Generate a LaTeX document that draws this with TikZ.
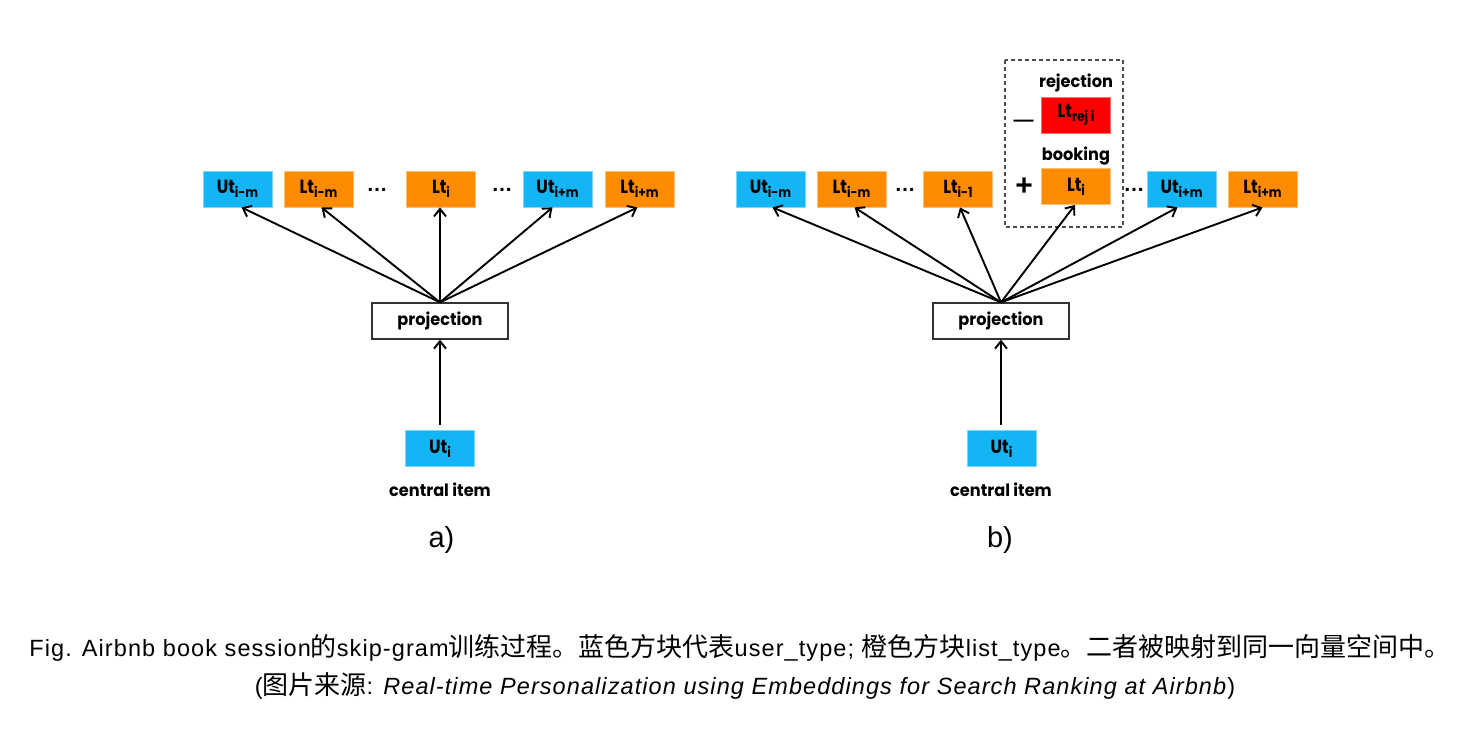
\documentclass[tikz,border=0pt]{standalone}
\usepackage{fontspec}
\setmainfont{Liberation Sans}[LetterSpace=4.6]
\newfontfamily\plainsans{Liberation Sans}
\newfontfamily\gothicb{Poppins}[FakeStretch=0.86]
\newfontfamily\gothicl{Poppins}[FakeStretch=0.95]
\newfontfamily\cjk{Noto Sans CJK SC}
\usetikzlibrary{arrows.meta}
\definecolor{ublue}{HTML}{13B5F5}
\definecolor{lorange}{HTML}{FF8C00}
\definecolor{rred}{HTML}{FF0000}
\newcommand\subtx[1]{\raisebox{-4pt}{\fontsize{14}{14}\selectfont #1}}
\newcommand\cj[1]{{\fontsize{26}{26}\selectfont\cjk #1}}
\tikzset{
  item/.style={minimum width=69, minimum height=36, inner sep=0pt,
    font=\gothicb\bfseries\fontsize{19}{19}\selectfont, fill=#1, draw=#1!55!white, line width=0.8},
  arr/.style={line width=1.9, -{Straight Barb[length=7.5pt,width=12pt,line width=1.9pt]}},
  lbl/.style={font=\gothicl\bfseries\fontsize{17}{17}\selectfont, inner sep=0pt},
  dots/.style={font=\plainsans\bfseries\fontsize{21}{21}\selectfont, inner sep=0pt, anchor=base},
  signs/.style={font=\plainsans\bfseries\fontsize{30}{30}\selectfont, inner sep=0pt},
  proj/.style={draw=black!80, line width=1.3, minimum width=136, minimum height=36, inner sep=0pt,
    font=\gothicl\bfseries\fontsize{17}{17}\selectfont},
  panellabel/.style={font=\plainsans\fontsize{29}{29}\selectfont, inner sep=0pt, anchor=base},
  captiontext/.style={font=\fontsize{23.5}{23.5}\selectfont, inner sep=0pt, anchor=base},
}
\begin{document}
\begin{tikzpicture}[x=1pt, y=-1pt]
\useasboundingbox (0,0) rectangle (1479,748);
% ---------- panel a ----------
\node[item=ublue]   (a1) at (237.5,189) {Ut\subtx{i-m}};
\node[item=lorange] (a2) at (318.5,189) {Lt\subtx{i-m}};
\node[dots]         (ad1) at (377,191.5) {\dots};
\node[item=lorange] (a3) at (441,189) {Lt\subtx{i}};
\node[dots]         (ad2) at (502,191.5) {\dots};
\node[item=ublue]   (a4) at (557.5,189) {Ut\subtx{i+m}};
\node[item=lorange] (a5) at (639.5,189) {Lt\subtx{i+m}};
\node[proj] (ap) at (440,321) {projection};
\node[item=ublue] (ac) at (440,448.5) {Ut\subtx{i}};
\node[lbl] (acl) at (440,490) {central item};
\node[panellabel] (alab) at (441.5,547) {a)};
\coordinate (ac0) at (440,425);
\draw[arr] (ac0) -- (ap.south);
\draw[arr] (ap.north) -- ([xshift=4]a1.south);
\draw[arr] (ap.north) -- ([xshift=3]a2.south);
\draw[arr] (ap.north) -- ([xshift=-1]a3.south);
\draw[arr] (ap.north) -- ([xshift=-5]a4.south);
\draw[arr] (ap.north) -- ([xshift=-2]a5.south);
% ---------- panel b ----------
\node[item=ublue]   (b1) at (770.5,189) {Ut\subtx{i-m}};
\node[item=lorange] (b2) at (851.5,189) {Lt\subtx{i-m}};
\node[dots]         (bd1) at (905,191.5) {\dots};
\node[item=lorange] (b3) at (958,189) {Lt\subtx{i-1}};
\node[item=lorange] (b4) at (1076,186.5) {Lt\subtx{i}};
\node[item=rred]    (br) at (1076,115) {Lt\subtx{rej i}};
\node[lbl] (bbl) at (1076,156) {booking};
\node[lbl] (brl) at (1076,83) {rejection};
\node[signs] (bplus) at (1024,187) {+};
\node[font=\plainsans\bfseries\fontsize{20}{20}\selectfont, inner sep=0pt, anchor=base] (bminus) at (1023.5,126) {—};
\node[dots]         (bd2) at (1134,191.5) {\dots};
\node[item=ublue]   (b5) at (1181.5,189) {Ut\subtx{i+m}};
\node[item=lorange] (b6) at (1262.5,189) {Lt\subtx{i+m}};
\draw[dashed, dash pattern=on 4pt off 3pt, line width=1.3, black!70] (1005,60) rectangle (1123,227);
\node[proj] (bp) at (1001,321) {projection};
\node[item=ublue] (bc) at (1001.5,448.5) {Ut\subtx{i}};
\node[lbl] (bcl) at (1001,490) {central item};
\node[panellabel] (blab) at (1000,547) {b)};
\coordinate (bc0) at (1001,425);
\draw[arr] (bc0) -- (bp.south);
\draw[arr] (bp.north) -- ([xshift=2]b1.south);
\draw[arr] (bp.north) -- ([xshift=3]b2.south);
\draw[arr] (bp.north) -- ([xshift=2]b3.south);
\draw[arr] (bp.north) -- ([xshift=-1]b4.south);
\draw[arr] (bp.north) -- ([xshift=-4]b5.south);
\draw[arr] (bp.north) -- ([xshift=0]b6.south);
% ---------- caption ----------
\node[captiontext] (c1) at (740,656) {Fig. Airbnb book session\cj{的}skip-gram\cj{训练过程。蓝色方块代表}user\_type; \cj{橙色方块}list\_type\cj{。二者被映射到同一向量空间中。}};
\node[captiontext] (c2) at (745,694) {(\cj{图片来源}: \textit{Real-time Personalization using Embeddings for Search Ranking at Airbnb})};
\end{tikzpicture}
\end{document}
